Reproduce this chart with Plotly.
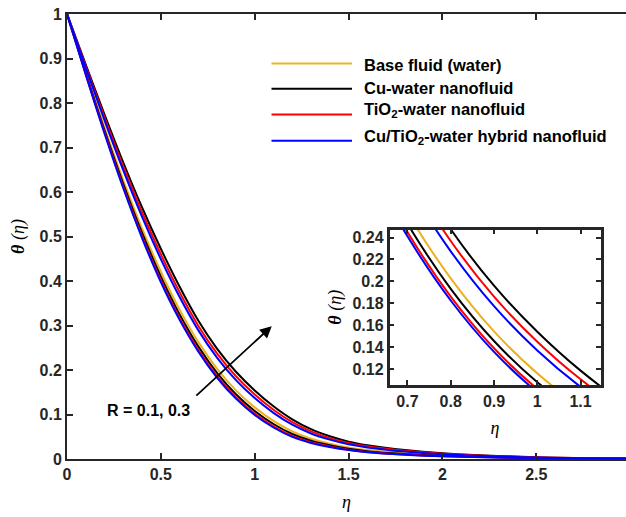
import plotly.graph_objects as go

# ---------------- data ----------------
eta = [0, 0.1, 0.2, 0.3, 0.4, 0.5, 0.6, 0.7, 0.8, 0.9, 1.0, 1.1, 1.2, 1.3, 1.4,
       1.5, 1.6, 1.8, 2.0, 2.5, 3.0]

# R = 0.1 group
hybrid_r1 = [1, 0.8635, 0.7316, 0.6084, 0.4966, 0.3976, 0.3126, 0.2411, 0.1825, 0.1356,
             0.0989, 0.0708, 0.0497, 0.036, 0.027, 0.020, 0.015, 0.0095, 0.006, 0.002, 0.0005]
tio2_r1 = [1, 0.8648, 0.7339, 0.6116, 0.5004, 0.4017, 0.3167, 0.2449, 0.1861, 0.1389,
           0.1019, 0.0734, 0.0519, 0.0377, 0.0283, 0.021, 0.0159, 0.0101, 0.0064, 0.0021, 0.0005]
cu_r1 = [1, 0.8673, 0.7386, 0.6180, 0.5079, 0.4099, 0.3249, 0.2526, 0.1932, 0.1456,
         0.1080, 0.0787, 0.0562, 0.0411, 0.031, 0.0231, 0.0176, 0.0112, 0.0072, 0.0023, 0.0006]
base_fluid = [1, 0.8706, 0.7448, 0.6264, 0.5179, 0.4208, 0.3357, 0.2626, 0.2027, 0.1543,
              0.1160, 0.0856, 0.0620, 0.0456, 0.0344, 0.0259, 0.020, 0.0128, 0.0082, 0.0026, 0.0007]
# R = 0.3 group
hybrid_r3 = [1, 0.8793, 0.7609, 0.6484, 0.5439, 0.4492, 0.3639, 0.2890, 0.2274, 0.1773,
             0.1369, 0.1037, 0.0770, 0.0574, 0.0436, 0.0331, 0.026, 0.0167, 0.0108, 0.0034, 0.0008]
tio2_r3 = [1, 0.8826, 0.7671, 0.6568, 0.5539, 0.4601, 0.3747, 0.2991, 0.2368, 0.1860,
           0.1449, 0.1106, 0.0827, 0.0619, 0.047, 0.0359, 0.0284, 0.0183, 0.0118, 0.0037, 0.0009]
cu_r3 = [1, 0.8864, 0.7741, 0.6663, 0.5652, 0.4724, 0.3870, 0.3105, 0.2475, 0.1960,
         0.1540, 0.1185, 0.0892, 0.067, 0.051, 0.039, 0.031, 0.020, 0.013, 0.004, 0.001]

legend_labels = ["Base fluid (water)", "Cu-water nanofluid",
                 "TiO<sub>2</sub>-water nanofluid",
                 "Cu/TiO<sub>2</sub>-water hybrid nanofluid"]
main_xticks = [0, 0.5, 1, 1.5, 2, 2.5, 3]
main_yticks = [0, 0.1, 0.2, 0.3, 0.4, 0.5, 0.6, 0.7, 0.8, 0.9, 1]
inset_xticks = [0.7, 0.8, 0.9, 1.0, 1.1]
inset_yticks = [0.12, 0.14, 0.16, 0.18, 0.2, 0.22, 0.24]

YELLOW = "#EDB120"
BLACK = "#000000"
RED = "#FF0000"
BLUE = "#0000FF"
AX = "#262626"

series = [
    (base_fluid, YELLOW),
    (cu_r1, BLACK), (cu_r3, BLACK),
    (tio2_r1, RED), (tio2_r3, RED),
    (hybrid_r1, BLUE), (hybrid_r3, BLUE),
]

fig = go.Figure()
for ys, c in series:
    fig.add_trace(go.Scatter(x=eta, y=ys, mode="lines", line=dict(color=c, width=2, shape="spline"),
                             showlegend=False, hoverinfo="skip", xaxis="x", yaxis="y"))
for ys, c in series:
    fig.add_trace(go.Scatter(x=eta, y=ys, mode="lines", line=dict(color=c, width=2, shape="spline"),
                             showlegend=False, hoverinfo="skip", xaxis="x2", yaxis="y2"))

W, H = 626, 517
L, R, T, B = 67, 0, 14, 58
pw, ph = W - L - R, H - T - B


def px(x):
    return (x - L) / pw


def py(y):
    return (H - B - y) / ph


tickfont = dict(family="Liberation Sans, Arial", size=16, color=AX, weight="bold")
titlefont = dict(family="Liberation Serif, Times New Roman", size=18, color="#000000")

fig.update_layout(
    width=W, height=H,
    margin=dict(l=L, r=R, t=T, b=B),
    plot_bgcolor="white", paper_bgcolor="white",
    xaxis=dict(range=[0, 2.978], tickvals=main_xticks, ticktext=[str(v) for v in main_xticks],
               ticks="inside", ticklen=6, tickwidth=2, tickcolor=AX,
               showline=True, linewidth=2, linecolor=AX, mirror="ticks",
               showgrid=False, zeroline=False, tickfont=tickfont, automargin=False,
               title=dict(text="<i>η</i>", font=titlefont, standoff=13)),
    yaxis=dict(range=[0, 1], tickvals=main_yticks, ticktext=[f"{v:g}" for v in main_yticks],
               ticks="inside", ticklen=6, tickwidth=2, tickcolor=AX,
               showline=True, linewidth=2, linecolor=AX,
               showgrid=False, zeroline=False, tickfont=tickfont, automargin=False,
               title=dict(text="<b><i>θ</i></b> <i>(η)</i>", font=titlefont, standoff=10)),
    xaxis2=dict(domain=[px(389.5), px(600.5)], anchor="y2", range=[0.6585, 1.146],
                tickvals=inset_xticks, ticktext=[f"{v:g}" for v in inset_xticks],
                ticks="inside", ticklen=5, tickwidth=2, tickcolor=AX,
                showline=True, linewidth=2.5, linecolor=AX, mirror="ticks",
                showgrid=False, zeroline=False, tickfont=tickfont, automargin=False,
                title=dict(text="<i>η</i>", font=titlefont, standoff=13)),
    yaxis2=dict(domain=[py(385), py(229.5)], anchor="x2", range=[0.1054, 0.2473],
                tickvals=inset_yticks, ticktext=[f"{v:g}" for v in inset_yticks],
                ticks="inside", ticklen=5, tickwidth=2, tickcolor=AX,
                showline=True, linewidth=2.5, linecolor=AX, mirror="ticks",
                showgrid=False, zeroline=False, tickfont=tickfont, automargin=False,
                title=dict(text="<b><i>θ</i></b> <i>(η)</i>", font=titlefont, standoff=7)),
)

# custom legend (long line samples, as in the reference)
leg_rows_line = [63.6, 88.7, 114.6, 140.7]
leg_rows_text = [65, 88, 110, 137]
leg_colors = [YELLOW, BLACK, RED, BLUE]
for lbl, c, yl, yt in zip(legend_labels, leg_colors, leg_rows_line, leg_rows_text):
    fig.add_shape(type="line", xref="paper", yref="paper", x0=px(271.5), x1=px(352),
                  y0=py(yl), y1=py(yl), line=dict(color=c, width=2))
    fig.add_annotation(xref="paper", yref="paper", x=px(362), y=py(yt), xanchor="left",
                       yanchor="middle", text=lbl, showarrow=False,
                       font=dict(family="Liberation Sans, Arial", size=16.5, color="#000000",
                                 weight="bold"))

# arrow and label for R
fig.add_annotation(x=1.0906, y=0.2985, ax=0.673, ay=0.1363, xref="x", yref="y",
                   axref="x", ayref="y", showarrow=True, arrowhead=2, arrowsize=1.3,
                   arrowwidth=1.8, arrowcolor="#000000", text=" ")
fig.add_annotation(x=0.432, y=0.108, xref="x", yref="y", text="R = 0.1, 0.3", showarrow=False,
                   font=dict(family="Liberation Sans, Arial", size=16, color="#000000",
                             weight="bold"))

fig.write_html("out.html", config={"displayModeBar": False},
               post_script="document.body.style.margin='0';document.body.style.overflow='hidden';")
